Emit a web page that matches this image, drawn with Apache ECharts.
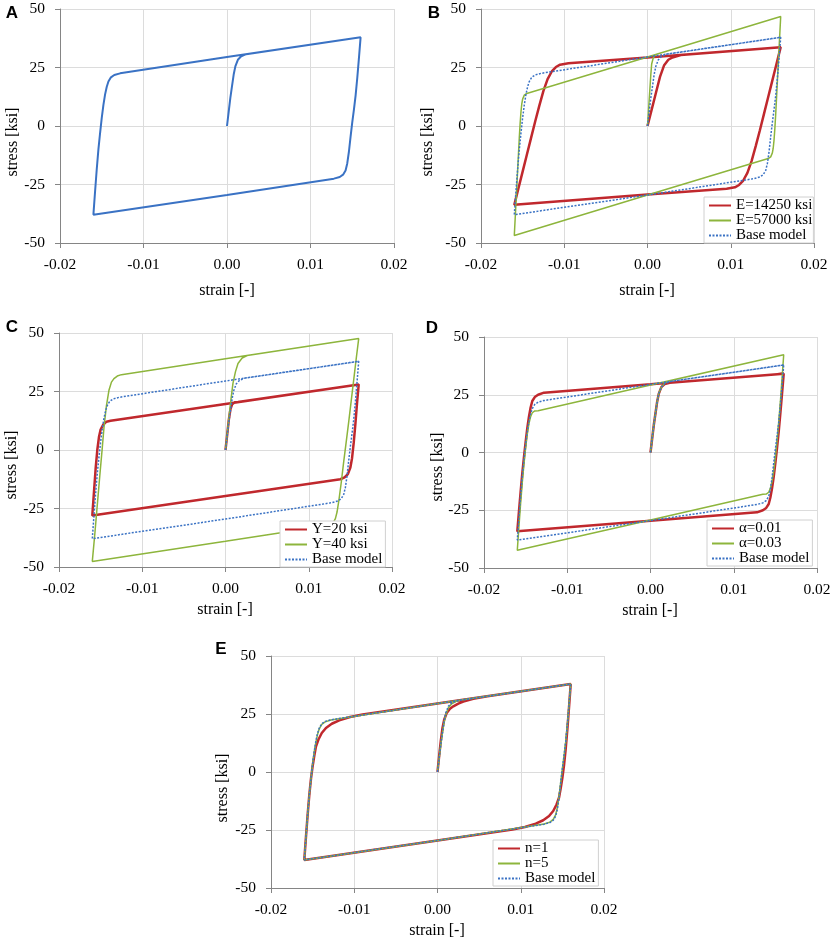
<!DOCTYPE html>
<html>
<head>
<meta charset="utf-8">
<title>stress-strain</title>
<script src="https://cdn.jsdelivr.net/npm/echarts@6/dist/echarts.min.js"></script>
<style>
body { margin: 0; background: #fff; }
#main { width: 835px; height: 941px; }
</style>
</head>
<body>
<div id="main"></div>
<script>
// tick values of both axes
var strainTicks = [-0.02, -0.01, 0, 0.01, 0.02];
var stressTicks = [-50, -25, 0, 25, 50];

// [strain, stress]
var baseModel = [
	[0,0],[0.0002,6],[0.0004,12],[0.0006,17],[0.0008,22],[0.001,25.5],[0.0013,28.3],[0.0017,29.8],[0.0023,30.7],
	[0.016,37.9],
	[0.0158,29],[0.0156,20.5],[0.0154,13],[0.0152,7],[0.015,1.5],[0.0148,-4.5],[0.0146,-11],[0.0144,-16],[0.0142,-19],[0.0139,-20.8],[0.0135,-21.8],[0.0128,-22.5],
	[0,-29.5],[-0.016,-37.9],
	[-0.0158,-28],[-0.0156,-18.5],[-0.0154,-10],[-0.0152,-3],[-0.015,3.5],[-0.0148,9],[-0.0146,13.5],[-0.0144,16.8],[-0.0142,19],[-0.0139,20.8],[-0.0135,21.8],[-0.0128,22.5],
	[0,29.5],[0.016,37.9]
];
var e14250 = [
	[0,0],[0.0005,7],[0.001,14],[0.0015,21],[0.002,26],[0.0025,28.3],[0.003,29.3],[0.004,30.3],
	[0.016,33.7],
	[0.0155,26.6],[0.015,19.5],[0.0145,12.4],[0.014,5.3],[0.0135,-1.8],[0.013,-8.6],[0.0125,-15],[0.012,-20],[0.0115,-23.3],[0.011,-25.2],[0.0105,-26.2],[0.0095,-26.8],
	[0,-29.3],[-0.016,-33.7],
	[-0.0155,-26.6],[-0.015,-19.5],[-0.0145,-12.4],[-0.014,-5.3],[-0.0135,1.8],[-0.013,8.6],[-0.0125,15],[-0.012,20],[-0.0115,23.3],[-0.011,25.2],[-0.0105,26.2],[-0.0095,26.8],
	[0,29.3],[0.016,33.7]
];
var e57000 = [
	[0,0],[0.0002,11],[0.0004,22],[0.0005,26.5],[0.0007,29.2],[0.001,30.6],
	[0.016,46.8],
	[0.0158,33],[0.0157,26],[0.0156,19],[0.0155,12],[0.0154,5],[0.0153,-1],[0.0152,-6],[0.0151,-9.5],[0.015,-11.5],[0.0148,-13.2],[0.0145,-13.9],
	[0,-29.5],[-0.016,-46.8],
	[-0.0158,-33],[-0.0157,-26],[-0.0156,-19],[-0.0155,-12],[-0.0154,-5],[-0.0153,1],[-0.0152,6],[-0.0151,9.5],[-0.015,11.5],[-0.0148,13.2],[-0.0145,13.9],
	[0,29.5],[0.016,46.8]
];
var y20 = [
	[0,0],[0.0002,6.5],[0.0004,13],[0.0006,17.5],[0.0008,19.5],[0.0011,20.4],[0.0015,20.5],
	[0.016,28],
	[0.0158,20],[0.0156,11],[0.0154,3],[0.0152,-3.5],[0.015,-7.5],[0.0147,-10.3],[0.0143,-11.7],[0.0138,-12.5],
	[0,-19.7],[-0.016,-28],
	[-0.0158,-18],[-0.0156,-8],[-0.0154,0],[-0.0152,5.5],[-0.015,8.7],[-0.0147,10.8],[-0.0143,12.1],[-0.0138,12.5],
	[0,19.7],[0.016,28]
];
var y40 = [
	[0,0],[0.0003,10],[0.0006,20],[0.0009,28.6],[0.0012,33.5],[0.0015,37],[0.002,39.3],[0.0026,40.4],
	[0.016,47.6],
	[0.0157,39],[0.0154,30],[0.0151,21],[0.0148,12],[0.0145,3.5],[0.0142,-5],[0.0139,-14],[0.0136,-22],[0.0134,-26.5],[0.0132,-29.3],[0.0129,-31.3],[0.0125,-32.2],
	[0,-39],[-0.016,-47.6],
	[-0.0157,-36],[-0.0154,-23.5],[-0.0151,-11],[-0.0148,1],[-0.0146,9.5],[-0.0143,19],[-0.014,25.5],[-0.0137,29],[-0.0134,30.5],[-0.013,31.6],[-0.0125,32.2],
	[0,39],[0.016,47.6]
];
var a001 = [
	[0,0],[0.0002,6],[0.0004,12],[0.0006,17],[0.0008,22],[0.001,25.5],[0.0013,28.3],[0.0017,29.6],[0.0023,30.2],
	[0.016,34.1],
	[0.0158,25.5],[0.0156,17],[0.0154,9],[0.0152,2],[0.015,-4.5],[0.0148,-10.5],[0.0146,-15.5],[0.0144,-19.5],[0.0142,-22.3],[0.0139,-24],[0.0135,-25],[0.0128,-25.9],
	[0,-29.5],[-0.016,-34.1],
	[-0.0158,-25.5],[-0.0156,-17],[-0.0154,-9],[-0.0152,-2],[-0.015,4.5],[-0.0148,10.5],[-0.0146,15.5],[-0.0144,19.5],[-0.0142,22.3],[-0.0139,24],[-0.0135,25],[-0.0128,25.9],
	[0,29.5],[0.016,34.1]
];
var a003 = [
	[0,0],[0.0002,6],[0.0004,12],[0.0006,17],[0.0008,22],[0.001,25.5],[0.0013,28.3],[0.0017,30],[0.0023,31.1],
	[0.016,42.3],
	[0.0158,32],[0.0156,22],[0.0154,13],[0.0152,5],[0.015,-2],[0.0148,-8],[0.0146,-12.5],[0.0144,-15.5],[0.0142,-17.2],[0.0139,-18],[0.0135,-18.1],
	[0,-29.2],[-0.016,-42.3],
	[-0.0158,-32],[-0.0156,-22],[-0.0154,-13],[-0.0152,-5],[-0.015,2],[-0.0148,8],[-0.0146,12.5],[-0.0144,15.5],[-0.0142,17.2],[-0.0139,18],[-0.0135,18.1],
	[0,29.2],[0.016,42.3]
];
var n1 = [
	[0,0],[0.0002,7],[0.0004,13.5],[0.0006,19],[0.0008,22.5],[0.0011,25.4],[0.0015,27.3],[0.0019,28.3],[0.0025,29.5],[0.0031,30.4],[0.0043,31.6],[0.006,32.6],
	[0.016,37.9],
	[0.0158,28],[0.0156,18.5],[0.0154,10],[0.0152,3],[0.015,-2.5],[0.0148,-7],[0.0146,-11],[0.0143,-14],[0.0139,-16.8],[0.0134,-19],[0.0127,-20.8],[0.0118,-22.3],[0.0105,-23.7],[0.009,-24.8],
	[0,-29.5],[-0.016,-37.9],
	[-0.0158,-28],[-0.0156,-18.5],[-0.0154,-10],[-0.0152,-3],[-0.015,2.5],[-0.0148,7],[-0.0146,11],[-0.0143,14],[-0.0139,16.8],[-0.0134,19],[-0.0127,20.8],[-0.0118,22.3],[-0.0105,23.7],[-0.009,24.8],
	[0,29.5],[0.016,37.9]
];
var n5 = [
	[0,0],[0.0002,6],[0.0004,12],[0.0006,17],[0.0008,21.5],[0.001,24.8],[0.0013,27.6],[0.0017,29.4],[0.0023,30.6],[0.003,31.1],
	[0.016,37.9],
	[0.0158,29],[0.0156,20.5],[0.0154,13],[0.0152,7],[0.015,1.5],[0.0148,-4.5],[0.0146,-10.5],[0.0144,-15.3],[0.0142,-18.4],[0.0139,-20.4],[0.0135,-21.6],[0.0128,-22.4],
	[0,-29.5],[-0.016,-37.9],
	[-0.0158,-28],[-0.0156,-18.5],[-0.0154,-10],[-0.0152,-3],[-0.015,3.5],[-0.0148,8.7],[-0.0146,13],[-0.0144,16.3],[-0.0142,18.6],[-0.0139,20.5],[-0.0135,21.6],[-0.0128,22.4],
	[0,29.5],[0.016,37.9]
];

var RED = '#c0282d', GREEN = '#8db53c', BLUE = '#3a72c4';
var SERIF = '"Liberation Serif", "Times New Roman", serif';

// plot areas of the five panels
var panels = [
	{ left: 60, top: 9, width: 334, height: 234, letter: 'A', lx: 12, ly: 13, yt: [13, 142], xt: [227, 291] },
	{ left: 481, top: 9, width: 333, height: 234, letter: 'B', lx: 434, ly: 13, yt: [428, 142], xt: [647, 291] },
	{ left: 59, top: 333, width: 333, height: 234, letter: 'C', lx: 12, ly: 327, yt: [12, 465], xt: [225, 610] },
	{ left: 484, top: 337, width: 333, height: 231, letter: 'D', lx: 432, ly: 328, yt: [438, 467], xt: [650, 611] },
	{ left: 271, top: 656, width: 333, height: 232, letter: 'E', lx: 221, ly: 649, yt: [223, 788], xt: [437, 931] }
];

function line(name, data, idx, color, width, dotted) {
	return {
		name: name,
		type: 'line',
		data: data,
		xAxisIndex: idx,
		yAxisIndex: idx,
		symbol: 'none',
		silent: true,
		animation: false,
		itemStyle: { color: color },
		lineStyle: { color: color, width: width, type: dotted ? [2, 1.5] : 'solid' }
	};
}

function legendAt(names, left, top, padRight) {
	return {
		data: names,
		orient: 'vertical',
		left: left,
		top: top,
		itemWidth: 22,
		itemHeight: 10,
		itemGap: 0,
		padding: [1, padRight, 0, 4],
		borderColor: '#d0d0d0',
		borderWidth: 1,
		backgroundColor: '#fff',
		selectedMode: false,
		// hide the marker, keep only the line sample
		itemStyle: { opacity: 0 },
		textStyle: { fontFamily: SERIF, fontSize: 15, color: '#000', lineHeight: 14.5 }
	};
}

var grids = [], xAxes = [], yAxes = [], graphics = [];
panels.forEach(function (p, i) {
	grids.push({ left: p.left, top: p.top, width: p.width, height: p.height });
	xAxes.push({
		type: 'value', gridIndex: i,
		min: strainTicks[0], max: strainTicks[strainTicks.length - 1], interval: strainTicks[1] - strainTicks[0],
		axisLine: { onZero: false, lineStyle: { color: '#858585', width: 1 } },
		axisTick: { show: true, length: 5, lineStyle: { color: '#858585' } },
		splitLine: { show: true, lineStyle: { color: '#dcdcdc', width: 1 } },
		axisLabel: {
			margin: 14, color: '#000', fontFamily: SERIF, fontSize: 15.5,
			formatter: function (v) { return Math.abs(v) < 1e-9 ? '0.00' : v.toFixed(2); }
		}
	});
	yAxes.push({
		type: 'value', gridIndex: i,
		min: stressTicks[0], max: stressTicks[stressTicks.length - 1], interval: stressTicks[1] - stressTicks[0],
		axisLine: { show: true, onZero: false, lineStyle: { color: '#858585', width: 1 } },
		axisTick: { show: true, length: 5, lineStyle: { color: '#858585' } },
		splitLine: { show: true, lineStyle: { color: '#dcdcdc', width: 1 } },
		axisLabel: { margin: 15, color: '#000', fontFamily: SERIF, fontSize: 15.5 }
	});
	graphics.push({
		type: 'text', x: p.lx, y: p.ly,
		style: { text: p.letter, font: 'bold 17px "Liberation Sans", Arial, sans-serif', fill: '#000',
			textAlign: 'center', textVerticalAlign: 'middle', align: 'center', verticalAlign: 'middle' }
	});
	graphics.push({
		type: 'text', x: p.yt[0], y: p.yt[1], rotation: Math.PI / 2,
		style: { text: 'stress [ksi]', font: '16px ' + SERIF, fill: '#000',
			textAlign: 'center', textVerticalAlign: 'middle', align: 'center', verticalAlign: 'middle' }
	});
	graphics.push({
		type: 'text', x: p.xt[0], y: p.xt[1],
		style: { text: 'strain [-]', font: '16px ' + SERIF, fill: '#000',
			textAlign: 'center', textVerticalAlign: 'middle', align: 'center', verticalAlign: 'middle' }
	});
});

var myChart = echarts.init(document.getElementById('main'));
var option = {
	backgroundColor: '#fff',
	animation: false,
	grid: grids,
	xAxis: xAxes,
	yAxis: yAxes,
	legend: [
		legendAt(['E=14250 ksi', 'E=57000 ksi', 'Base model'], 704, 197, 1),
		legendAt(['Y=20 ksi', 'Y=40 ksi', 'Base model'], 280, 521, 3),
		legendAt(['α=0.01', 'α=0.03', 'Base model'], 707, 520, 3),
		legendAt(['n=1', 'n=5', 'Base model'], 493, 840, 3)
	],
	graphic: graphics,
	series: [
		line('Base A', baseModel, 0, BLUE, 2, false),
		line('E=14250 ksi', e14250, 1, RED, 2.5, false),
		line('E=57000 ksi', e57000, 1, GREEN, 1.5, false),
		line('Base model', baseModel, 1, BLUE, 1.5, true),
		line('Y=20 ksi', y20, 2, RED, 2.5, false),
		line('Y=40 ksi', y40, 2, GREEN, 1.5, false),
		line('Base model', baseModel, 2, BLUE, 1.5, true),
		line('α=0.01', a001, 3, RED, 2.5, false),
		line('α=0.03', a003, 3, GREEN, 1.5, false),
		line('Base model', baseModel, 3, BLUE, 1.5, true),
		line('n=1', n1, 4, RED, 2.5, false),
		line('n=5', n5, 4, GREEN, 1.5, false),
		line('Base model', baseModel, 4, BLUE, 1.5, true)
	]
};
myChart.setOption(option);
</script>
</body>
</html>
